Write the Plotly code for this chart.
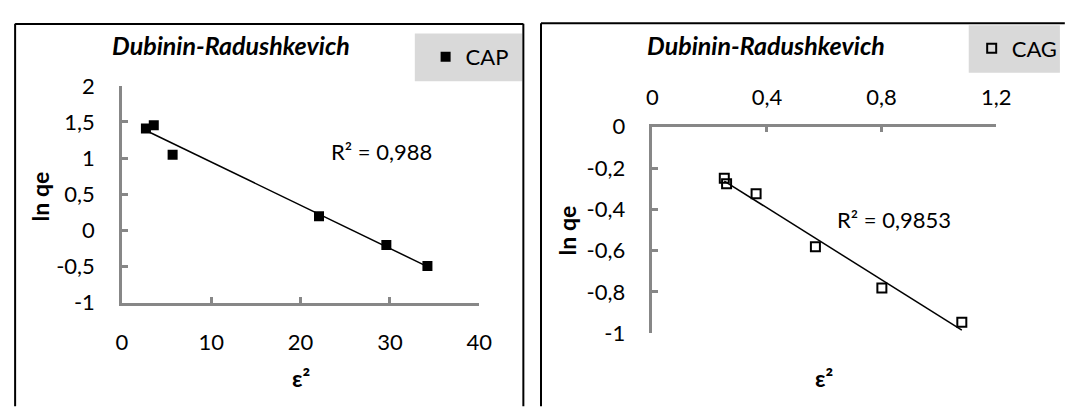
import numpy as np
import plotly.graph_objects as go

# ---------------- data ----------------
cap_x = [2.68, 3.56, 5.67, 22.06, 29.6, 34.2]
cap_y = [1.41, 1.454, 1.048, 0.194, -0.202, -0.495]
cap_r2 = "R² = 0,988"

cag_x = [0.251, 0.259, 0.362, 0.569, 0.801, 1.080]
cag_y = [-0.250, -0.276, -0.324, -0.581, -0.781, -0.947]
cag_r2 = "R² = 0,9853"

left_xticks = [0, 10, 20, 30, 40]
left_xtext = ["0", "10", "20", "30", "40"]
left_yticks = [-1, -0.5, 0, 0.5, 1, 1.5, 2]
left_ytext = ["-1", "-0,5", "0", "0,5", "1", "1,5", "2"]

right_xticks = [0, 0.4, 0.8, 1.2]
right_xtext = ["0", "0,4", "0,8", "1,2"]
right_yticks = [-1, -0.8, -0.6, -0.4, -0.2, 0]
right_ytext = ["-1", "-0,8", "-0,6", "-0,4", "-0,2", "0"]

chart_title = "Dubinin-Radushkevich"
x_title = "ε²"
y_title = "ln qe"

# ---------------- layout helpers ----------------
W, H = 1071, 407
FONT = "Lato"
AX = "#878787"


def px(x):
    return x / W


def py(y):
    return 1 - y / H


def trend(xs, ys):
    a, b = np.polyfit(xs, ys, 1)
    xx = np.array([min(xs), max(xs)])
    return xx, a * xx + b


fig = go.Figure()

# left panel (CAP)
fig.add_trace(go.Scatter(x=cap_x, y=cap_y, mode="markers", name="CAP",
                         marker=dict(symbol="square", size=10, color="black"),
                         xaxis="x", yaxis="y", legend="legend"))
tx, ty = trend(cap_x, cap_y)
fig.add_trace(go.Scatter(x=tx, y=ty, mode="lines", showlegend=False,
                         line=dict(color="black", width=1.5),
                         xaxis="x", yaxis="y", hoverinfo="skip"))

# right panel (CAG)
fig.add_trace(go.Scatter(x=cag_x, y=cag_y, mode="markers", name="CAG",
                         marker=dict(symbol="square-open", size=9, color="black",
                                     line=dict(width=2, color="black")),
                         xaxis="x2", yaxis="y2", legend="legend2"))
tx2, ty2 = trend(cag_x, cag_y)
fig.add_trace(go.Scatter(x=tx2, y=ty2, mode="lines", showlegend=False,
                         line=dict(color="black", width=1.5),
                         xaxis="x2", yaxis="y2", hoverinfo="skip"))

axis_common = dict(showline=True, linecolor=AX, linewidth=2.5, showgrid=False,
                   zeroline=False, ticks="inside", ticklen=6, tickwidth=2.5,
                   tickcolor=AX, tickfont=dict(family=FONT, size=22, color="black"),
                   fixedrange=True)

fig.update_layout(
    width=W, height=H,
    margin=dict(l=0, r=0, t=0, b=0),
    paper_bgcolor="white", plot_bgcolor="white",
    font=dict(family=FONT, color="black"),
    xaxis=dict(domain=[px(118.3), px(482.7)], range=[0, 40],
               tickmode="array", tickvals=left_xticks, ticktext=left_xtext,
               ticklabelstandoff=18, anchor="y", **axis_common),
    yaxis=dict(domain=[py(309), py(77)], range=[-1, 2],
               tickmode="array", tickvals=left_yticks, ticktext=left_ytext,
               ticklabelstandoff=20, anchor="x", **axis_common),
    xaxis2=dict(domain=[px(659.3), px(1010)], range=[0, 1.2], side="top",
                tickmode="array", tickvals=right_xticks, ticktext=right_xtext,
                ticklabelstandoff=10, anchor="y2", **axis_common),
    yaxis2=dict(domain=[py(342), py(120.7)], range=[-1, 0],
                tickmode="array", tickvals=right_yticks, ticktext=right_ytext,
                ticklabelstandoff=20, anchor="x2", **axis_common),
    legend=dict(x=px(428), y=py(46), xanchor="left", yanchor="middle",
                bgcolor="rgba(0,0,0,0)", borderwidth=0,
                font=dict(family=FONT, size=22, color="black")),
    legend2=dict(x=px(985), y=py(37), xanchor="left", yanchor="middle",
                 bgcolor="rgba(0,0,0,0)", borderwidth=0,
                 font=dict(family=FONT, size=22, color="black")),
    showlegend=True,
)

# chart borders and legend backgrounds
shapes = [
    dict(type="line", xref="paper", yref="paper", x0=px(9.3), x1=px(9.3), y0=py(10.5), y1=py(420),
         line=dict(color="black", width=2)),
    dict(type="line", xref="paper", yref="paper", x0=px(9.3), x1=px(527.7), y0=py(10.8), y1=py(10.8),
         line=dict(color="black", width=2)),
    dict(type="line", xref="paper", yref="paper", x0=px(527.7), x1=px(527.7), y0=py(10.5), y1=py(420),
         line=dict(color="black", width=2)),
    dict(type="line", xref="paper", yref="paper", x0=px(545.7), x1=px(545.7), y0=py(10), y1=py(420),
         line=dict(color="black", width=2)),
    dict(type="line", xref="paper", yref="paper", x0=px(545.7), x1=px(1080), y0=py(10), y1=py(10),
         line=dict(color="black", width=2)),
    dict(type="rect", xref="paper", yref="paper", x0=px(417), x1=px(526.5), y0=py(72), y1=py(21),
         fillcolor="#d9d9d9", line=dict(width=0), layer="below"),
    dict(type="rect", xref="paper", yref="paper", x0=px(982), x1=px(1075), y0=py(63), y1=py(12),
         fillcolor="#d9d9d9", line=dict(width=0), layer="below"),
]
fig.update_layout(shapes=shapes)

title_font = dict(family=FONT, size=25, color="black", weight="bold", style="italic")
label_font = dict(family=FONT, size=23, color="black", weight="bold")
annotations = [
    dict(text=chart_title, xref="paper", yref="paper", x=px(230), y=py(33),
         xanchor="center", yanchor="middle", showarrow=False, font=title_font),
    dict(text=chart_title, xref="paper", yref="paper", x=px(775), y=py(33),
         xanchor="center", yanchor="middle", showarrow=False, font=title_font),
    dict(text=x_title, xref="paper", yref="paper", x=px(300.5), y=py(390),
         xanchor="center", yanchor="middle", showarrow=False, font=label_font),
    dict(text=x_title, xref="paper", yref="paper", x=px(834.7), y=py(390),
         xanchor="center", yanchor="middle", showarrow=False, font=label_font),
    dict(text=y_title, xref="paper", yref="paper", x=px(35), y=py(195),
         xanchor="center", yanchor="middle", textangle=-90, showarrow=False, font=label_font),
    dict(text=y_title, xref="paper", yref="paper", x=px(572), y=py(232),
         xanchor="center", yanchor="middle", textangle=-90, showarrow=False, font=label_font),
    dict(text=cap_r2, xref="x", yref="y", x=23.2, y=1.096, xanchor="left", yanchor="middle",
         showarrow=False, font=dict(family=FONT, size=22, color="black")),
    dict(text=cag_r2, xref="x2", yref="y2", x=0.636, y=-0.449, xanchor="left", yanchor="middle",
         showarrow=False, font=dict(family=FONT, size=22, color="black")),
]
fig.update_layout(annotations=annotations)

fig.write_html("out.html", config={"displayModeBar": False},
               post_script="document.body.style.margin='0px';"
                           "document.documentElement.style.overflow='hidden';"
                           "document.body.style.overflow='hidden';")
